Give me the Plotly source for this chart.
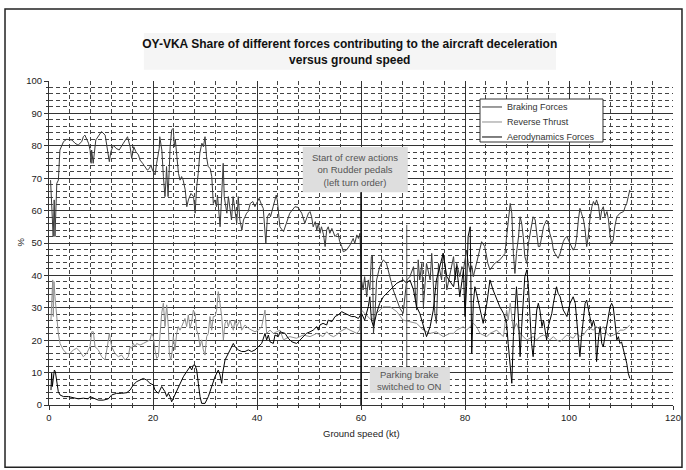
import plotly.graph_objects as go

# ---------------- data (ground speed in kt, share in %) ----------------
braking_kt = [
    0.3, 0.8, 1.0, 1.15, 1.5, 1.8, 2.1, 2.8, 3.4, 4.4,
    5.0, 5.6, 6.3, 6.6, 6.9, 7.2, 7.6, 7.9, 8.1, 8.2,
    8.5, 9.0, 9.8, 10.1, 10.8, 11.2, 11.6, 11.9, 12.4, 12.9,
    13.5, 14.3, 14.9, 15.1, 15.6, 15.9, 16.3, 16.7, 17.2, 17.5,
    18.0, 18.5, 18.9, 19.3, 19.6, 19.9, 20.4, 20.7, 21.2, 21.3,
    21.7, 22.0, 22.3, 22.5, 22.6, 22.9, 23.3, 23.6, 23.9, 24.1,
    24.3, 24.6, 24.9, 25.2, 25.5, 25.8, 26.2, 26.5, 26.8, 27.3,
    27.8, 28.1, 28.4, 28.7, 29.0, 29.4, 29.7, 30.0, 30.3, 30.6,
    31.0, 31.3, 31.6, 31.9, 32.2, 32.4, 32.7, 32.9, 33.1, 33.3,
    33.5, 33.7, 34.2, 34.5, 34.8, 35.1, 35.4, 35.8, 36.1, 36.4,
    36.7, 37.1, 37.4, 37.7, 38.0, 38.3, 38.7, 39.2, 39.6, 39.9,
    40.4, 40.9, 41.2, 41.7, 42.0, 42.4, 42.6, 43.1, 43.5, 43.7,
    43.9, 44.4, 45.1, 45.7, 46.3, 47.3, 47.9, 48.6, 49.2, 49.9,
    50.2, 50.5, 50.8, 51.2, 51.5, 51.8, 52.1, 52.4, 52.8, 53.1,
    53.4, 53.7, 54.0, 54.4, 54.7, 55.0, 55.6, 55.9, 56.3, 56.6,
    57.2, 57.9, 58.5, 58.8, 59.2, 59.5, 59.8, 60.1, 60.4, 60.7,
    61.1, 61.4, 61.7, 62.0, 62.2, 62.4, 62.7, 63.0, 63.6, 64.3,
    64.9, 65.6, 66.2, 66.9, 67.5, 68.1, 68.8, 69.4, 70.1, 70.7,
    71.0, 71.3, 71.7, 72.0, 72.6, 73.3, 73.6, 74.2, 74.5, 74.9,
    75.5, 75.8, 76.2, 76.5, 77.8, 78.1, 78.4, 78.7, 79.0, 79.4,
    79.7, 80.3, 80.6, 81.0, 81.3, 81.6, 81.9, 82.6, 83.2, 83.8,
    84.4, 84.8, 85.7, 86.7, 87.7, 88.0, 88.3, 88.7, 89.0, 89.3,
    89.6, 89.9, 90.3, 90.6, 90.9, 91.2, 91.5, 91.9, 92.2, 92.5,
    92.8, 93.1, 93.5, 93.8, 94.1, 94.4, 94.8, 95.1, 95.4, 95.7,
    96.0, 96.3, 96.7, 97.0, 97.3, 97.6, 97.9, 98.3, 98.6, 98.9,
    99.2, 99.6, 99.9, 100.2, 100.5, 100.8, 101.2, 101.5, 101.8, 102.1,
    102.4, 102.8, 103.1, 103.4, 103.7, 104.0, 104.4, 104.7, 105.0, 105.3,
    105.7, 106.0, 106.3, 106.6, 106.9, 107.3, 107.6, 107.9, 108.2, 108.5,
    108.8, 109.2, 109.8, 110.5, 110.8, 111.1, 111.4, 111.7,
]
braking_pct = [
    69.4, 52.0, 63.3, 52.0, 68.4, 69.4, 78.7, 81.3, 82.0, 81.8,
    80.8, 80.2, 81.3, 82.8, 83.3, 82.3, 80.8, 78.7, 74.6, 78.7,
    74.6, 81.8, 83.8, 84.4, 83.3, 79.7, 75.1, 78.2, 80.2, 79.2,
    78.7, 80.8, 82.3, 82.8, 79.7, 76.1, 79.7, 78.2, 77.2, 75.6,
    74.6, 73.6, 72.5, 73.0, 74.1, 72.5, 71.0, 74.6, 79.2, 82.8,
    78.7, 70.5, 64.3, 69.4, 73.6, 64.3, 79.7, 84.9, 85.4, 79.7,
    81.8, 76.6, 71.5, 69.4, 70.5, 69.4, 66.4, 61.2, 63.3, 65.3,
    64.3, 59.2, 67.4, 71.5, 77.7, 80.8, 79.7, 82.8, 76.6, 73.6,
    73.0, 70.5, 62.2, 63.3, 61.2, 64.8, 57.1, 55.0, 61.2, 66.4,
    74.6, 64.3, 59.2, 64.3, 60.2, 57.1, 64.3, 59.2, 56.1, 64.3,
    57.1, 54.0, 57.1, 58.1, 59.2, 59.7, 62.2, 62.8, 61.2, 62.2,
    63.8, 61.7, 60.7, 49.9, 58.1, 59.2, 58.1, 61.2, 63.3, 64.8,
    63.3, 55.0, 53.5, 56.1, 59.2, 61.2, 61.0, 59.2, 56.1, 59.2,
    59.7, 58.1, 55.0, 56.6, 54.0, 56.1, 53.0, 55.0, 52.5, 48.9,
    54.0, 55.0, 53.0, 54.5, 53.5, 52.0, 53.0, 50.4, 48.9, 47.3,
    47.8, 49.4, 51.4, 49.9, 52.5, 51.4, 53.0, 38.6, 35.5, 39.6,
    33.4, 38.6, 35.5, 45.8, 46.3, 22.1, 28.3, 38.6, 42.7, 44.8,
    43.7, 39.6, 35.5, 32.4, 29.8, 28.3, 38.6, 39.6, 42.7, 29.3,
    44.8, 38.6, 43.7, 30.3, 43.7, 38.6, 46.8, 28.3, 25.2, 43.7,
    38.6, 46.8, 42.7, 35.5, 45.8, 38.6, 43.7, 41.7, 39.6, 42.7,
    41.7, 47.8, 44.0, 41.0, 43.0, 39.6, 41.7, 46.8, 50.4, 48.9,
    43.7, 41.7, 43.7, 44.8, 46.8, 52.0, 57.1, 62.2, 59.2, 46.8,
    40.6, 46.8, 52.0, 58.1, 56.1, 52.0, 45.8, 43.7, 49.9, 53.0,
    56.1, 58.1, 57.1, 53.0, 48.9, 48.9, 52.0, 55.0, 56.1, 57.1,
    56.1, 53.0, 50.9, 47.8, 46.8, 45.8, 45.3, 46.8, 48.9, 50.4,
    51.4, 52.0, 50.9, 49.9, 48.9, 47.8, 48.9, 52.0, 57.1, 60.7,
    59.2, 57.1, 54.0, 48.9, 52.0, 57.1, 61.2, 62.8, 61.7, 63.3,
    61.2, 57.1, 60.2, 61.2, 58.1, 59.7, 57.1, 52.0, 49.9, 50.9,
    55.0, 58.1, 59.2, 59.7, 61.2, 62.2, 64.3, 66.4,
]

reverse_kt = [
    0.38, 0.58, 0.71, 0.83, 0.96, 1.15, 1.47, 1.79, 2.12, 2.76,
    3.40, 4.04, 4.68, 5.32, 5.96, 6.60, 7.24, 7.88, 8.21, 8.53,
    8.85, 9.49, 10.13, 10.77, 11.22, 11.60, 12.05, 12.69, 13.33, 13.97,
    14.62, 15.26, 15.58, 15.90, 16.22, 16.54, 16.86, 17.50, 18.14, 18.78,
    19.42, 19.74, 20.06, 20.38, 20.71, 21.03, 21.35, 21.67, 21.99, 22.31,
    22.63, 22.95, 23.14, 23.40, 23.65, 23.91, 24.23, 24.55, 24.87, 25.19,
    25.51, 25.83, 26.15, 26.47, 26.79, 27.12, 27.44, 27.76, 28.08, 28.40,
    28.72, 29.04, 29.36, 29.68, 30.00, 30.32, 30.64, 30.96, 31.28, 31.60,
    31.92, 32.24, 32.56, 32.88, 33.21, 33.53, 33.85, 34.17, 34.49, 34.81,
    35.13, 35.45, 35.77, 36.09, 36.73, 37.05, 37.69, 38.33, 38.97, 39.62,
    40.26, 40.90, 41.54, 41.86, 42.50, 43.14, 43.78, 44.42, 45.1, 46.3,
    47.6, 48.9, 50.2, 51.5, 52.1, 52.7, 53.4, 54.0, 54.7, 55.3,
    55.9, 56.6, 57.2, 57.9, 58.5, 59.2, 59.7, 60.1, 60.7, 61.4,
    62.0, 63.0, 64.3, 65.6, 66.9, 68.1, 69.4, 70.7, 72.0, 73.3,
    74.5, 75.8, 77.1, 77.8, 78.4, 79.0, 79.7, 80.3, 81.0, 81.6,
    82.2, 82.9, 83.5, 84.2, 84.8, 85.4, 86.1, 86.7, 87.4, 88.0,
    88.3, 88.7, 89.0, 89.3, 89.9, 90.6, 91.2, 91.9, 92.5, 93.1,
    93.8, 94.4, 95.1, 95.7, 96.3, 97.0, 97.6, 98.3, 98.9, 99.6,
    100.2, 100.8, 101.5, 102.1, 102.8, 103.4, 104.0, 104.7, 105.3, 106.0,
    106.6, 107.3, 107.9, 108.5, 109.2, 109.8, 110.5, 111.1, 111.7,
]
reverse_pct = [
    26.2, 32.4, 38.6, 27.3, 38.1, 33.4, 27.3, 22.1, 19.0, 17.0,
    15.9, 15.9, 17.0, 17.5, 16.5, 14.9, 15.9, 18.0, 22.6, 22.6,
    18.0, 17.0, 14.9, 13.9, 18.0, 22.1, 18.0, 15.9, 14.9, 15.4,
    13.9, 14.9, 18.0, 17.5, 19.0, 18.0, 19.0, 18.5, 19.0, 19.5,
    20.1, 22.1, 21.1, 17.0, 14.4, 14.9, 22.1, 28.3, 31.4, 24.2,
    30.9, 24.2, 15.9, 13.9, 15.9, 21.1, 17.0, 22.1, 24.2, 23.1,
    24.2, 25.7, 26.7, 24.2, 27.8, 23.7, 25.7, 29.3, 28.3, 23.1,
    21.6, 18.0, 20.1, 17.0, 15.4, 21.1, 22.1, 27.3, 23.1, 27.3,
    27.3, 29.3, 35.0, 31.4, 27.3, 20.1, 25.2, 26.2, 24.2, 26.2,
    24.7, 23.1, 26.2, 24.2, 26.2, 23.1, 24.7, 23.7, 23.1, 22.6,
    23.1, 24.2, 29.3, 22.1, 23.1, 22.1, 22.6, 23.1, 20.1, 21.1,
    20.6, 21.6, 21.1, 22.1, 21.6, 21.1, 22.6, 21.6, 21.1, 21.6,
    22.6, 23.1, 23.7, 23.1, 22.6, 22.1, 23.1, 29.3, 28.3, 27.3,
    26.2, 28.3, 30.3, 30.3, 28.8, 26.2, 25.7, 25.2, 23.1, 22.1,
    22.6, 21.1, 22.1, 22.1, 23.1, 23.7, 24.2, 23.1, 24.2, 25.2,
    24.2, 22.1, 21.6, 21.1, 22.1, 22.6, 23.1, 22.1, 21.1, 29.3,
    26.2, 31.4, 26.2, 23.1, 25.2, 22.1, 21.1, 20.1, 20.6, 21.1,
    20.1, 21.1, 21.6, 21.1, 20.1, 21.1, 20.1, 19.5, 20.6, 21.6,
    21.1, 20.6, 22.1, 21.1, 21.6, 23.1, 23.7, 23.1, 24.2, 23.1,
    24.2, 22.1, 21.1, 21.6, 22.1, 23.1, 23.1, 23.7, 24.7,
]

aero_kt = [
    0.38, 0.51, 0.64, 0.83, 1.03, 1.22, 1.47, 1.79, 2.12, 2.76,
    3.72, 4.68, 5.64, 6.60, 7.56, 7.88, 8.53, 9.49, 10.45, 11.41,
    12.05, 13.01, 13.97, 14.94, 15.58, 16.22, 16.86, 17.50, 18.14, 18.78,
    19.42, 20.06, 20.38, 21.03, 21.67, 22.31, 22.63, 22.95, 23.27, 23.59,
    23.91, 24.55, 25.19, 25.83, 26.47, 27.12, 27.44, 27.76, 28.08, 28.40,
    28.72, 29.04, 29.36, 30.00, 30.64, 31.28, 31.92, 32.56, 32.88, 33.21,
    33.40, 33.85, 34.49, 34.81, 35.13, 35.45, 35.77, 36.41, 37.05, 37.69,
    38.33, 38.97, 39.62, 40.26, 40.90, 41.54, 41.86, 42.18, 42.50, 43.14,
    43.46, 44.10, 44.42, 45.4, 46.0, 46.7, 47.6, 48.3, 48.9, 49.5,
    50.2, 50.8, 51.5, 51.8, 52.1, 52.7, 53.4, 53.7, 54.4, 55.0,
    55.6, 56.3, 56.9, 57.6, 58.2, 58.8, 59.5, 60.1, 60.7, 61.4,
    61.7, 62.0, 62.4, 63.0, 63.6, 64.3, 64.9, 65.6, 66.2, 66.9,
    67.5, 68.1, 68.8, 69.4, 70.1, 70.7, 71.3, 72.0, 72.6, 73.3,
    73.9, 74.5, 75.2, 75.8, 76.5, 77.8, 78.4, 79.0, 79.7, 80.0,
    80.3, 80.6, 81.0, 81.1, 81.3, 81.6, 81.9, 82.2, 82.9, 83.5,
    84.2, 84.8, 85.4, 86.1, 86.7, 87.4, 88.0, 88.3, 88.7, 89.0,
    89.3, 89.6, 89.9, 90.3, 90.6, 90.9, 91.2, 91.5, 91.9, 92.2,
    92.5, 92.8, 93.1, 93.5, 93.8, 94.1, 94.4, 94.8, 95.1, 95.4,
    95.7, 96.0, 96.3, 96.7, 97.0, 97.3, 97.6, 97.9, 98.3, 98.9,
    99.6, 99.9, 100.2, 100.5, 100.8, 101.2, 101.5, 101.8, 102.1, 102.4,
    102.8, 103.1, 103.4, 103.7, 104.0, 104.4, 104.7, 105.0, 105.3, 105.7,
    106.0, 106.3, 106.6, 106.9, 107.3, 107.6, 107.9, 108.2, 108.5, 108.8,
    109.2, 109.5, 109.8, 110.1, 110.5, 110.8, 111.1, 111.4, 111.7,
]
aero_pct = [
    4.6, 9.8, 5.7, 8.7, 10.8, 10.3, 6.7, 4.1, 3.1, 2.6,
    2.6, 2.3, 1.9, 2.1, 1.9, 2.6, 2.1, 1.5, 1.5, 1.9,
    3.1, 3.6, 3.6, 3.8, 4.6, 6.2, 7.2, 7.7, 8.2, 7.7,
    6.7, 6.2, 4.6, 3.6, 5.7, 4.1, 2.6, 3.6, 2.6, 1.0,
    2.1, 4.6, 6.7, 8.7, 10.3, 11.8, 10.8, 12.3, 12.3, 10.8,
    6.7, 2.6, 0.5, 0.5, 2.6, 5.7, 8.7, 10.8, 9.3, 6.7,
    9.8, 13.9, 15.9, 17.0, 18.0, 19.0, 18.0, 17.0, 16.5, 16.5,
    17.0, 16.5, 17.0, 18.0, 19.0, 22.1, 20.1, 21.6, 19.5, 19.0,
    21.6, 21.1, 22.6, 22.1, 20.6, 19.5, 19.0, 20.1, 21.1, 22.1,
    22.6, 23.1, 24.2, 23.1, 24.7, 25.2, 24.7, 26.2, 25.7, 27.3,
    27.8, 28.8, 28.3, 27.8, 27.3, 27.3, 26.7, 28.3, 26.2, 30.3,
    33.4, 26.2, 24.2, 28.3, 31.4, 33.4, 34.5, 35.5, 36.5, 37.6,
    38.1, 38.6, 37.6, 38.6, 35.5, 30.3, 28.3, 24.2, 21.1, 24.2,
    29.3, 38.6, 42.7, 46.8, 39.6, 36.5, 42.7, 33.4, 41.7, 27.3,
    36.5, 52.0, 55.0, 31.4, 15.9, 31.4, 36.5, 34.5, 29.3, 25.2,
    31.4, 38.6, 35.5, 32.4, 30.3, 28.3, 25.2, 19.0, 10.8, 6.7,
    21.1, 29.3, 36.5, 26.2, 14.9, 24.2, 33.4, 39.6, 41.7, 36.5,
    27.3, 19.0, 14.9, 24.2, 29.3, 31.4, 29.3, 24.2, 26.2, 23.1,
    20.1, 24.2, 26.2, 28.3, 31.4, 34.5, 36.5, 34.5, 33.4, 29.3,
    27.3, 29.3, 31.4, 32.4, 33.4, 31.4, 26.2, 21.1, 14.9, 21.1,
    28.3, 31.4, 32.4, 29.3, 27.3, 24.2, 26.2, 24.2, 13.4, 21.1,
    24.2, 19.0, 18.0, 21.1, 25.2, 28.3, 30.3, 31.4, 30.3, 26.2,
    20.1, 21.1, 19.0, 19.5, 17.0, 14.9, 12.9, 9.8, 8.2,
]

series_names = ["Braking Forces", "Reverse Thrust", "Aerodynamics Forces"]
series_colors = ["#3a3a3a", "#8e8e8e", "#000000"]
x_ticks = [0, 20, 40, 60, 80, 100, 120]
y_ticks = [0, 10, 20, 30, 40, 50, 60, 70, 80, 90, 100]

# annotation markers (kt)
crew_start_kt = 60.0
parking_brake_kt = 68.8

FONT = "Liberation Sans, Arial, sans-serif"

fig = go.Figure()
for name, xs, ys, col in zip(series_names,
                             [braking_kt, reverse_kt, aero_kt],
                             [braking_pct, reverse_pct, aero_pct],
                             series_colors):
    fig.add_trace(go.Scatter(x=xs, y=ys, mode="lines", name=name,
                             line=dict(color=col, width=1), showlegend=False))

shapes = [
    # outer chart frame
    dict(type="rect", xref="paper", yref="paper", x0=-0.0705, x1=1.0144,
         y0=-0.192, y1=1.222, line=dict(color="#222", width=1.5),
         fillcolor="rgba(0,0,0,0)", layer="below"),
    # title background
    dict(type="rect", xref="paper", yref="paper", x0=0.152, x1=0.8125,
         y0=1.035, y1=1.148, line=dict(width=0), fillcolor="#f5f5f5", layer="below"),
    # crew action box + pointer line
    dict(type="rect", xref="x", yref="y", x0=48.8, x1=69.0, y0=65.7, y1=79.6,
         line=dict(width=0), fillcolor="#dedede", layer="above"),
    dict(type="line", xref="x", yref="y", x0=crew_start_kt, x1=crew_start_kt,
         y0=-1, y1=65.7, line=dict(color="#111", width=1.5)),
    # parking brake box + pointer line
    dict(type="rect", xref="x", yref="y", x0=61.7, x1=77.1, y0=3.7, y1=11.7,
         line=dict(width=0), fillcolor="#dedede", layer="above"),
    dict(type="line", xref="x", yref="y", x0=parking_brake_kt, x1=parking_brake_kt,
         y0=11.7, y1=55.6, line=dict(color="#555", width=1)),
    # legend box
    dict(type="rect", xref="paper", yref="paper", x0=0.6907, x1=0.8878,
         y0=0.8117, y1=0.9444, line=dict(color="#333", width=1),
         fillcolor="white", layer="above"),
]

annotations = [
    dict(xref="x", yref="y", x=58.9, y=72.6, showarrow=False,
         text="Start of crew actions<br>on Rudder pedals<br>(left turn order)",
         font=dict(family=FONT, size=9.5, color="#555"), align="center"),
    dict(xref="x", yref="y", x=69.4, y=7.7, showarrow=False,
         text="Parking brake<br>switched to ON",
         font=dict(family=FONT, size=9.5, color="#555"), align="center"),
    # y axis title
    dict(xref="paper", yref="paper", x=-0.0577, y=0.503, showarrow=False,
         text="%", textangle=-90, font=dict(family=FONT, size=9.5, color="#222")),
    # x axis title
    dict(xref="paper", yref="paper", x=0.5, y=-0.112, showarrow=False,
         text="Ground speed (kt)", font=dict(family=FONT, size=9.5, color="#222")),
]

# custom compact legend (lines + labels)
legend_rows_y = [0.9198, 0.8735, 0.8272]
for name, col, ly in zip(series_names, series_colors, legend_rows_y):
    shapes.append(dict(type="line", xref="paper", yref="paper", x0=0.694, x1=0.726,
                       y0=ly, y1=ly, line=dict(color=col, width=1), layer="above"))
    annotations.append(dict(xref="paper", yref="paper", x=0.7308, y=ly, xanchor="left",
                            yanchor="middle", showarrow=False, text=name,
                            font=dict(family=FONT, size=9, color="#333")))

fig.update_layout(
    width=686, height=470,
    margin=dict(l=49, r=13, t=81, b=65, autoexpand=False),
    paper_bgcolor="white", plot_bgcolor="white",
    font=dict(family=FONT, size=10, color="#222"),
    title=dict(
        text="<b>OY-VKA Share of different forces contributing to the aircraft deceleration<br>versus ground speed</b>",
        x=0.482, xanchor="center", y=0.898, yanchor="middle", xref="paper", yref="container",
        font=dict(family=FONT, size=12, color="#111"),
    ),
    showlegend=False,
    shapes=shapes,
    annotations=annotations,
)

fig.update_xaxes(
    range=[0, 120], tickvals=x_ticks, ticks="outside", ticklen=4, tickcolor="#333",
    showgrid=True, gridcolor="#333", gridwidth=1, automargin=False,
    showline=True, linecolor="#333", linewidth=1, mirror=False, zeroline=False,
    minor=dict(dtick=4, showgrid=True, gridcolor="#444", griddash="4px,3px", gridwidth=1,
               ticks="outside", ticklen=2, tickcolor="#333"),
    tickfont=dict(family=FONT, size=9.5, color="#222"),
)
fig.update_yaxes(
    range=[0, 100], tickvals=y_ticks, ticks="outside", ticklen=4, tickcolor="#333",
    showgrid=True, gridcolor="#333", gridwidth=1, automargin=False,
    showline=True, linecolor="#333", linewidth=1, zeroline=False,
    minor=dict(dtick=2, showgrid=True, gridcolor="#444", griddash="4px,3px", gridwidth=1,
               ticks="outside", ticklen=2, tickcolor="#333"),
    tickfont=dict(family=FONT, size=9.5, color="#222"),
)

fig.write_html("out.html", config={"displayModeBar": False},
               post_script="document.body.style.margin='0';")
